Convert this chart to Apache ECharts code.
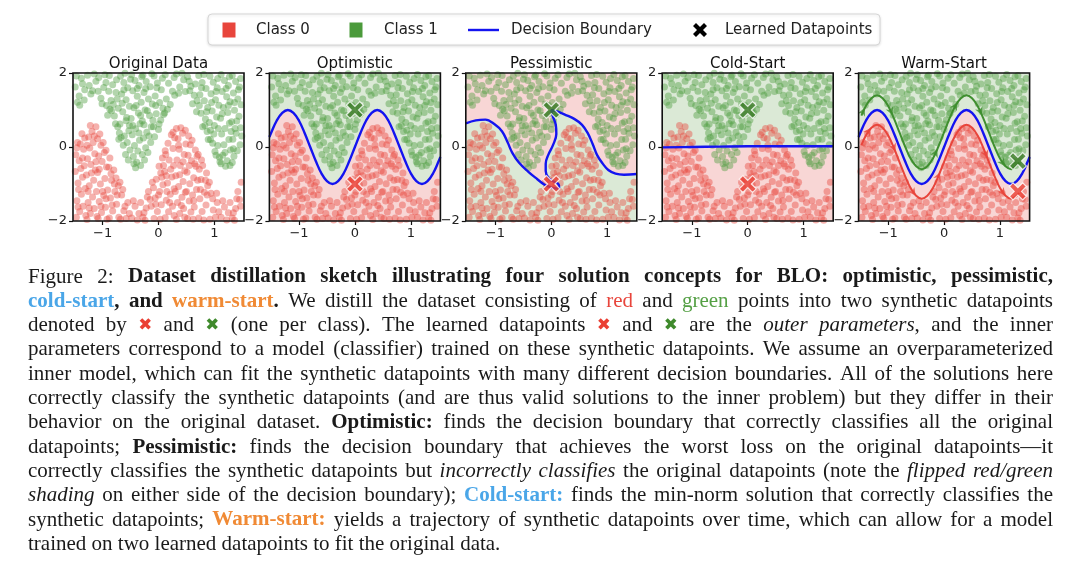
<!DOCTYPE html>
<html><head><meta charset="utf-8">
<script src="https://cdn.jsdelivr.net/npm/echarts@6/dist/echarts.min.js"></script>
<style>html,body{margin:0;padding:0;background:#fff}#c{width:1080px;height:577px}</style>
</head><body><div id="c"></div>
<script>
// ---------------- DATA ----------------
const panelTitles = ['Original Data', 'Optimistic', 'Pessimistic', 'Cold-Start', 'Warm-Start'];
const xTicks = [-1, 0, 1];
const yTicks = [-2, 0, 2];
const legendLabels = ['Class 0', 'Class 1', 'Decision Boundary', 'Learned Datapoints'];

// Class 1 (green) points
const class1Points = [
[-1.47,1.92],[-1.36,1.71],[-1.42,1.38],[-1.32,1.55],[-1.45,1.21],[-1.38,1.86],[-1.49,1.62],[-1.33,1.27],[-1.41,1.13],
[-1.27,1.94],[-1.18,1.52],[-1.12,1.78],[-1.24,1.66],[-1.15,1.97],[-1.21,1.43],
[-1.07,1.88],[-0.98,1.61],[-1.03,1.32],[-0.93,1.12],[-0.91,0.86],[-1.08,1.51],[-0.96,1.95],[-1.01,1.17],[-0.94,1.74],
[-0.88,1.93],[-0.82,1.68],[-0.76,1.47],[-0.85,1.26],[-0.72,1.05],[-0.79,0.84],[-0.73,0.55],[-0.71,0.21],[-0.87,1.02],[-0.75,1.82],[-0.81,1.15],[-0.77,0.63],[-0.84,0.98],[-0.70,0.38],[-0.89,1.51],[-0.74,1.30],
[-0.68,1.91],[-0.62,1.74],[-0.55,1.60],[-0.66,1.43],[-0.58,1.28],[-0.52,1.10],[-0.64,0.95],[-0.57,0.80],[-0.69,0.62],[-0.53,0.44],[-0.61,0.30],[-0.56,0.12],[-0.51,-0.08],[-0.59,-0.20],[-0.54,-0.35],[-0.63,0.05],[-0.67,0.26],[-0.60,1.99],[-0.50,1.83],[-0.65,1.18],[-0.58,0.71],[-0.52,0.58],[-0.62,1.55],
[-0.48,1.95],[-0.42,1.80],[-0.35,1.66],[-0.46,1.52],[-0.38,1.37],[-0.31,1.21],[-0.44,1.06],[-0.36,0.92],[-0.49,0.77],[-0.33,0.63],[-0.41,0.49],[-0.47,0.33],[-0.34,0.18],[-0.43,0.04],[-0.37,-0.11],[-0.45,-0.26],[-0.39,-0.41],[-0.32,-0.50],[-0.41,-0.56],[-0.30,1.90],[-0.40,1.12],[-0.46,0.58],[-0.35,0.38],[-0.44,-0.45],[-0.38,1.58],[-0.32,0.85],
[-0.28,1.94],[-0.22,1.77],[-0.15,1.63],[-0.26,1.47],[-0.18,1.30],[-0.11,1.16],[-0.24,1.00],[-0.16,0.85],[-0.29,0.70],[-0.13,0.55],[-0.21,0.40],[-0.27,0.24],[-0.14,0.12],[-0.23,-0.02],[-0.29,-0.20],[-0.25,-0.35],[-0.19,-0.15],[-0.12,1.98],[-0.20,0.98],[-0.26,0.60],[-0.17,0.30],[-0.10,0.72],[-0.23,1.58],
[-0.08,1.92],[-0.02,1.73],[0.05,1.55],[-0.06,1.38],[0.02,1.20],[0.08,1.05],[-0.04,0.90],[0.04,0.73],[-0.09,0.55],[0.00,0.47],[-0.07,0.28],[0.07,1.86],[-0.03,1.60],[0.09,0.88],[-0.05,1.12],[0.01,0.62],
[0.12,1.95],[0.18,1.72],[0.25,1.51],[0.14,1.30],[0.21,1.15],[0.28,1.88],[0.16,1.02],[0.29,1.40],[0.11,0.92],
[0.32,1.97],[0.38,1.62],[0.45,1.82],[0.36,1.45],[0.48,1.50],[0.42,1.99],
[0.52,1.90],[0.58,1.64],[0.64,1.40],[0.55,1.78],[0.61,1.17],[0.68,0.95],[0.66,1.70],[0.69,1.25],[0.56,1.52],
[0.72,1.93],[0.78,1.74],[0.85,1.58],[0.74,1.41],[0.82,1.25],[0.88,1.07],[0.76,0.91],[0.84,0.76],[0.79,0.55],[0.87,0.42],[0.89,0.20],[0.73,1.12],[0.81,1.96],[0.86,0.95],[0.77,1.60],[0.83,0.58],
[0.92,1.91],[0.98,1.75],[1.05,1.60],[0.94,1.44],[1.02,1.28],[1.08,1.13],[0.96,0.97],[1.04,0.81],[0.91,0.66],[1.07,0.50],[0.99,0.35],[0.93,0.20],[1.06,0.04],[1.01,-0.12],[1.09,-0.28],[1.03,-0.22],[0.97,0.10],[1.10,-0.40],[0.95,1.20],[1.00,0.58],[1.06,1.85],[0.93,0.45],[1.03,1.50],
[1.12,1.96],[1.18,1.80],[1.25,1.66],[1.14,1.50],[1.22,1.36],[1.28,1.22],[1.16,1.07],[1.24,0.93],[1.11,0.78],[1.27,0.64],[1.19,0.50],[1.13,0.35],[1.26,0.20],[1.17,0.06],[1.29,-0.08],[1.15,-0.22],[1.23,-0.37],[1.20,-0.52],[1.28,-0.50],[1.12,-0.45],[1.21,1.58],[1.30,0.42],[1.14,0.90],[1.25,1.12],[1.19,-0.15],[1.27,1.90],
[1.32,1.93],[1.38,1.77],[1.45,1.62],[1.34,1.46],[1.42,1.30],[1.48,1.14],[1.36,0.99],[1.44,0.83],[1.31,0.68],[1.47,0.52],[1.39,0.37],[1.33,0.21],[1.46,0.06],[1.41,-0.10],[1.35,-0.25],[1.32,-0.42],[1.37,0.50],[1.49,0.30],[1.43,1.55],[1.36,1.20],[1.40,0.70],[1.47,1.85],[1.34,-0.05]
];

// Class 0 (red) points
const class0Points = [
[-1.47,-1.90],[-1.41,-1.74],[-1.35,-1.60],[-1.46,-1.45],[-1.38,-1.28],[-1.31,-1.12],[-1.44,-0.97],[-1.36,-0.82],[-1.49,-0.66],[-1.33,-0.51],[-1.42,-0.37],[-1.48,-0.21],[-1.34,-0.06],[-1.40,0.08],[-1.32,0.24],[-1.45,0.12],[-1.37,0.36],[-1.43,-1.15],[-1.39,-0.58],[-1.46,-0.02],[-1.30,-1.85],[-1.44,-1.62],[-1.36,-0.30],
[-1.28,-1.96],[-1.22,-1.80],[-1.15,-1.66],[-1.26,-1.50],[-1.18,-1.35],[-1.11,-1.20],[-1.24,-1.05],[-1.16,-0.90],[-1.29,-0.76],[-1.13,-0.62],[-1.21,-0.47],[-1.27,-0.32],[-1.14,-0.18],[-1.23,-0.03],[-1.17,0.12],[-1.25,0.27],[-1.19,0.42],[-1.12,0.55],[-1.22,0.58],[-1.10,-1.88],[-1.20,-0.70],[-1.26,-1.20],[-1.15,0.30],[-1.28,0.05],[-1.12,-0.40],[-1.24,-1.65],
[-1.08,-1.93],[-1.02,-1.77],[-0.95,-1.63],[-1.06,-1.47],[-0.98,-1.31],[-0.91,-1.16],[-1.04,-1.00],[-0.96,-0.85],[-1.09,-0.69],[-0.93,-0.54],[-1.01,-0.39],[-1.07,-0.24],[-0.94,-0.09],[-1.03,0.05],[-1.09,0.22],[-0.97,-0.15],[-1.05,0.35],[-0.92,-1.95],[-1.00,-1.20],[-1.06,-0.60],[-0.99,0.12],[-0.94,-1.40],[-1.03,-1.60],
[-0.88,-1.92],[-0.82,-1.73],[-0.75,-1.55],[-0.86,-1.38],[-0.78,-1.20],[-0.72,-1.05],[-0.84,-0.90],[-0.76,-0.84],[-0.89,-0.55],[-0.80,-0.62],[-0.87,-0.30],[-0.71,-1.90],[-0.83,-1.57],[-0.79,-1.00],[-0.74,-1.30],[-0.85,-0.72],
[-0.68,-1.95],[-0.62,-1.72],[-0.55,-1.50],[-0.66,-1.30],[-0.58,-1.93],[-0.69,-0.95],[-0.52,-1.80],[-0.64,-1.15],[-0.60,-1.60],
[-0.48,-1.92],[-0.42,-1.60],[-0.35,-1.80],[-0.45,-1.45],[-0.32,-1.50],[-0.38,-1.97],
[-0.28,-1.90],[-0.22,-1.65],[-0.15,-1.42],[-0.26,-1.78],[-0.18,-1.20],[-0.11,-0.95],[-0.24,-1.98],[-0.13,-1.60],[-0.20,-1.35],
[-0.08,-1.93],[-0.02,-1.74],[0.05,-1.56],[-0.06,-1.38],[0.02,-1.20],[0.08,-1.02],[-0.04,-0.87],[0.04,-0.70],[0.09,-0.50],[0.01,-0.52],[0.07,-0.30],[-0.09,-1.10],[0.03,-1.95],[-0.05,-1.55],[0.06,-0.82],[0.00,-1.30],
[0.12,-1.91],[0.18,-1.75],[0.25,-1.60],[0.14,-1.44],[0.21,-1.28],[0.28,-1.13],[0.16,-0.97],[0.24,-0.81],[0.11,-0.66],[0.27,-0.50],[0.19,-0.35],[0.13,-0.20],[0.26,-0.04],[0.17,0.10],[0.29,0.25],[0.23,0.33],[0.15,-1.20],[0.22,-0.60],[0.28,-1.85],[0.12,-0.10],[0.20,-1.50],[0.26,0.40],[0.14,-0.78],
[0.32,-1.96],[0.38,-1.80],[0.45,-1.66],[0.34,-1.50],[0.42,-1.36],[0.48,-1.22],[0.36,-1.07],[0.44,-0.93],[0.31,-0.78],[0.47,-0.64],[0.39,-0.50],[0.33,-0.35],[0.46,-0.20],[0.37,-0.06],[0.49,0.08],[0.35,0.22],[0.43,0.37],[0.40,0.52],[0.32,0.50],[0.48,0.45],[0.41,-1.58],[0.30,-1.20],[0.44,-0.40],[0.36,0.05],[0.47,-1.90],[0.38,-0.75],
[0.52,-1.93],[0.58,-1.76],[0.64,-1.62],[0.55,-1.46],[0.61,-1.30],[0.68,-1.15],[0.56,-0.99],[0.63,-0.83],[0.51,-0.68],[0.67,-0.52],[0.59,-0.37],[0.53,-0.22],[0.66,-0.08],[0.57,0.06],[0.69,-0.25],[0.54,0.30],[0.60,0.18],[0.62,-1.95],[0.50,-1.20],[0.65,-0.45],[0.70,-0.90],[0.55,-0.50],[0.63,-1.45],
[0.72,-1.92],[0.78,-1.74],[0.85,-1.57],[0.74,-1.40],[0.82,-1.22],[0.88,-1.05],[0.76,-0.88],[0.84,-0.90],[0.71,-0.20],[0.79,-0.50],[0.73,-0.60],[0.87,-1.30],[0.81,-1.97],[0.75,-1.15],[0.86,-0.70],[0.77,-0.35],
[0.92,-1.95],[0.98,-1.70],[1.05,-1.50],[0.94,-1.25],[1.02,-1.90],[1.08,-1.75],[0.91,-0.95],[0.97,-1.40],[1.04,-1.25],
[1.12,-1.90],[1.18,-1.62],[1.25,-1.78],[1.15,-1.45],[1.28,-1.50],[1.22,-1.97],
[1.32,-1.92],[1.38,-1.66],[1.45,-1.42],[1.34,-1.78],[1.42,-1.20],[1.48,-0.95],[1.36,-1.98],[1.47,-1.60],[1.40,-1.40]
];

const optimisticBoundary = [[-1.53,0.27],[-1.5,0.38],[-1.4,0.71],[-1.3,0.92],[-1.2,1.0],[-1.1,0.92],[-1.0,0.71],[-0.9,0.38],[-0.8,0.0],[-0.7,-0.38],[-0.6,-0.71],[-0.5,-0.92],[-0.4,-1.0],[-0.3,-0.92],[-0.2,-0.71],[-0.1,-0.38],[0.0,0.0],[0.1,0.38],[0.2,0.71],[0.3,0.92],[0.4,1.0],[0.5,0.92],[0.6,0.71],[0.7,0.38],[0.8,0.0],[0.9,-0.38],[1.0,-0.71],[1.1,-0.92],[1.2,-1.0],[1.3,-0.92],[1.4,-0.71],[1.5,-0.38],[1.53,-0.27]];
const pessimisticBoundary = [[-1.53,0.64],[-1.35,0.72],[-1.18,0.74],[-1.02,0.62],[-0.88,0.42],[-0.78,0.12],[-0.70,-0.15],[-0.58,-0.42],[-0.41,-0.67],[-0.25,-0.87],[-0.12,-1.02],[-0.02,-1.08],[0.08,-1.12],[0.14,-1.10],[0.13,-1.01],[0.05,-0.94],[-0.05,-0.84],[-0.10,-0.65],[-0.10,-0.45],[-0.05,-0.20],[0.03,0.05],[0.09,0.35],[0.08,0.60],[0.03,0.82],[0.00,1.00],[0.10,0.96],[0.25,0.87],[0.41,0.76],[0.55,0.60],[0.65,0.38],[0.74,0.08],[0.82,-0.22],[0.92,-0.45],[1.02,-0.62],[1.15,-0.72],[1.30,-0.75],[1.53,-0.73]];
const coldStartBoundary = [[-1.53,-0.01],[-1.0,0.0],[-0.5,0.01],[0.0,0.02],[0.5,0.02],[1.0,0.02],[1.53,0.02]];
const warmStartBoundary = [[-1.53,0.27],[-1.5,0.38],[-1.4,0.71],[-1.3,0.92],[-1.2,1.0],[-1.1,0.92],[-1.0,0.71],[-0.9,0.38],[-0.8,0.0],[-0.7,-0.38],[-0.6,-0.71],[-0.5,-0.92],[-0.4,-1.0],[-0.3,-0.92],[-0.2,-0.71],[-0.1,-0.38],[0.0,0.0],[0.1,0.38],[0.2,0.71],[0.3,0.92],[0.4,1.0],[0.5,0.92],[0.6,0.71],[0.7,0.38],[0.8,0.0],[0.9,-0.38],[1.0,-0.71],[1.1,-0.92],[1.2,-1.0],[1.3,-0.92],[1.4,-0.71],[1.5,-0.38],[1.53,-0.27]];
const warmGreenTrajectory = [[-1.48,0.85],[-1.4,1.11],[-1.3,1.32],[-1.2,1.4],[-1.1,1.32],[-1.0,1.11],[-0.9,0.78],[-0.8,0.4],[-0.7,0.02],[-0.6,-0.31],[-0.5,-0.52],[-0.4,-0.6],[-0.3,-0.52],[-0.2,-0.31],[-0.1,0.02],[0.0,0.4],[0.1,0.78],[0.2,1.11],[0.3,1.32],[0.4,1.4],[0.5,1.32],[0.6,1.11],[0.7,0.78],[0.8,0.4],[0.9,0.02],[1.0,-0.31],[1.1,-0.52],[1.2,-0.6],[1.3,-0.5],[1.34,-0.42]];
const warmRedTrajectory = [[-1.48,0.05],[-1.4,0.31],[-1.3,0.52],[-1.2,0.6],[-1.1,0.52],[-1.0,0.31],[-0.9,-0.02],[-0.8,-0.4],[-0.7,-0.78],[-0.6,-1.11],[-0.5,-1.32],[-0.4,-1.4],[-0.3,-1.32],[-0.2,-1.11],[-0.1,-0.78],[0.0,-0.4],[0.1,-0.02],[0.2,0.31],[0.3,0.52],[0.4,0.6],[0.5,0.52],[0.6,0.31],[0.7,-0.02],[0.8,-0.4],[0.9,-0.78],[1.0,-1.11],[1.1,-1.32],[1.2,-1.4],[1.3,-1.32],[1.34,-1.24]];
// arrow heads along trajectories: [x, y, direction in degrees]
const greenArrows = [[-1.45,0.96,65],[-0.95,0.96,-65],[-0.15,-0.16,65],[0.2,1.11,61],[0.65,0.96,-65],[1.05,-0.43,-55]];
const redArrows = [[-1.35,0.43,55],[-0.9,-0.02,-67],[-0.55,-1.23,-55],[-0.1,-0.78,67],[0.75,-0.2,-68],[1.05,-1.23,-55]];
// learned datapoints per panel (panels 1..4)
const learnedClass0 = [[0,-1],[0,-1],[0,-1],[1.32,-1.2]];
const learnedClass1 = [[0,1],[0,1],[0,1],[1.32,-0.38]];

const captionLines = [
 "{n|Figure 2: }{b|Dataset distillation sketch illustrating four solution concepts for BLO: optimistic, pessimistic,}",
 "{bb|cold-start}{b|, and }{bo|warm-start}{b|.} We distill the dataset consisting of {r|red} and {g|green} points into two synthetic datapoints",
 "denoted by {xr|✖} and {xg|✖} (one per class). The learned datapoints {xr|✖} and {xg|✖} are the {i|outer parameters}, and the inner",
 "parameters correspond to a model (classifier) trained on these synthetic datapoints. We assume an overparameterized",
 "inner model, which can fit the synthetic datapoints with many different decision boundaries. All of the solutions here",
 "correctly classify the synthetic datapoints (and are thus valid solutions to the inner problem) but they differ in their",
 "behavior on the original dataset. {b|Optimistic:} finds the decision boundary that correctly classifies all the original",
 "datapoints; {b|Pessimistic:} finds the decision boundary that achieves the worst loss on the original datapoints—it",
 "correctly classifies the synthetic datapoints but {i|incorrectly classifies} the original datapoints (note the {i|flipped red/green}",
 "{i|shading} on either side of the decision boundary); {bb|Cold-start:} finds the min-norm solution that correctly classifies the",
 "synthetic datapoints; {bo|Warm-start:} yields a trajectory of synthetic datapoints over time, which can allow for a model",
 "trained on two learned datapoints to fit the original data."
];

// ---------------- STYLE / LAYOUT ----------------
const X_MIN = -1.53, X_MAX = 1.53, Y_MIN = -2, Y_MAX = 2;
const GRID_LEFT0 = 73, GRID_STEP = 196.4, GRID_W = 171, GRID_TOP = 73, GRID_H = 148;
const PT_RED = '#e8453c', PT_GREEN = '#4b9a3b';
const X_RED = '#ea3f33', X_GREEN = '#3a7a25';
const BLUE = '#1414f0';
const BG_PINK = '#f8d6d5', BG_GREEN = '#dbe9d6';
const SANS = '"DejaVu Sans", sans-serif';
const XPATH = 'path://M0,3L3,0L7,4L11,0L14,3L10,7L14,11L11,14L7,10L3,14L0,11L4,7Z';
const XPOLY = [[0,3],[3,0],[7,4],[11,0],[14,3],[10,7],[14,11],[11,14],[7,10],[3,14],[0,11],[4,7]];
const ARROW = 'path://M0,0L10,5L0,10L3,5Z';
const fmt = v => (v < 0 ? '\u2212' + Math.abs(v) : String(v));

const grids = [], xAxes = [], yAxes = [], series = [], graphics = [];
const boundaries = [null, optimisticBoundary, pessimisticBoundary, coldStartBoundary, warmStartBoundary];

for (let i = 0; i < 5; i++) {
  const left = GRID_LEFT0 + i * GRID_STEP;
  grids.push({left, top: GRID_TOP, width: GRID_W, height: GRID_H, show: true,
    backgroundColor: i === 0 ? '#fff' : BG_GREEN, borderWidth: 0});
  xAxes.push({gridIndex: i, type: 'value', min: X_MIN, max: X_MAX, position: 'bottom',
    splitLine: {show: false}, axisLine: {show: false, onZero: false},
    axisTick: {show: true, customValues: xTicks, length: 4, lineStyle: {color: '#111', width: 1.2}},
    axisLabel: {customValues: xTicks, formatter: fmt, fontSize: 13, color: '#222', margin: 6, fontFamily: SANS}});
  yAxes.push({gridIndex: i, type: 'value', min: Y_MIN, max: Y_MAX, interval: 2, position: 'left',
    splitLine: {show: false}, axisLine: {show: false, onZero: false},
    axisTick: {show: true, customValues: yTicks, length: 4, lineStyle: {color: '#111', width: 1.2}},
    axisLabel: {customValues: yTicks, formatter: fmt, fontSize: 13, color: '#222', margin: 6, fontFamily: SANS}});

  const ax = {xAxisIndex: i, yAxisIndex: i};
  const b = boundaries[i];
  if (i === 2) {
    series.push(Object.assign({type: 'custom', clip: true, silent: true, z: 1, data: [[0, 0]],
      renderItem: (params, api) => {
        const pts = b.map(p => api.coord(p));
        const f = b[0], l = b[b.length - 1];
        pts.push(api.coord([l[0] + 0.3, l[1]]), api.coord([l[0] + 0.3, Y_MAX + 0.6]),
                 api.coord([f[0] - 0.3, Y_MAX + 0.6]), api.coord([f[0] - 0.3, f[1]]));
        return {type: 'polygon', shape: {points: pts, smooth: 0.35}, style: {fill: BG_PINK}};
      }}, ax));
  } else if (b) {
    series.push(Object.assign({type: 'line', data: b, smooth: 0.4, symbol: 'none', silent: true, z: 1,
      lineStyle: {width: 0, opacity: 0}, areaStyle: {color: BG_PINK, opacity: 1, origin: 'start'}}, ax));
  }
  series.push(Object.assign({type: 'scatter', name: legendLabels[0], data: class0Points, symbolSize: 7, silent: true, z: 2,
    itemStyle: {color: PT_RED, opacity: 0.42}}, ax));
  series.push(Object.assign({type: 'scatter', name: legendLabels[1], data: class1Points, symbolSize: 7, silent: true, z: 2,
    itemStyle: {color: PT_GREEN, opacity: 0.42}}, ax));
  if (i === 4) {
    series.push(Object.assign({type: 'line', data: warmGreenTrajectory, smooth: 0.4, symbol: 'none', silent: true, z: 3,
      lineStyle: {color: '#3f8f2f', width: 2}}, ax));
    series.push(Object.assign({type: 'line', data: warmRedTrajectory, smooth: 0.4, symbol: 'none', silent: true, z: 3,
      lineStyle: {color: '#e8453c', width: 2}}, ax));
    series.push(Object.assign({type: 'scatter', symbol: ARROW, symbolSize: 8, silent: true, z: 4,
      data: greenArrows.map(a => ({value: [a[0], a[1]], symbolRotate: a[2]})), itemStyle: {color: '#3f8f2f'}}, ax));
    series.push(Object.assign({type: 'scatter', symbol: ARROW, symbolSize: 8, silent: true, z: 4,
      data: redArrows.map(a => ({value: [a[0], a[1]], symbolRotate: a[2]})), itemStyle: {color: '#e8453c'}}, ax));
  }
  if (b) {
    series.push(Object.assign({type: 'line', name: legendLabels[2], data: b, smooth: 0.4, symbol: 'none', silent: true, z: 3,
      lineStyle: {color: BLUE, width: 2.4}}, ax));
    series.push(Object.assign({type: 'scatter', name: legendLabels[3], symbol: XPATH, symbolSize: 17, silent: true, z: 5,
      data: [{value: learnedClass0[i - 1], itemStyle: {color: X_RED}}, {value: learnedClass1[i - 1], itemStyle: {color: X_GREEN}}],
      itemStyle: {borderColor: '#fff', borderWidth: 1.2}}, ax));
  }
  graphics.push({type: 'rect', silent: true, z: 100, shape: {x: left, y: GRID_TOP, width: GRID_W, height: GRID_H},
    style: {fill: 'none', stroke: '#111', lineWidth: 1.6}});
  graphics.push({type: 'text', silent: true, z: 100, x: left + GRID_W / 2, y: 64,
    style: {text: panelTitles[i], fontSize: 15, fontFamily: SANS, fill: '#111', align: 'center', verticalAlign: 'middle'}});
}

// legend (drawn as graphic)
graphics.push({type: 'rect', silent: true, z: 90, shape: {x: 208, y: 14, width: 672, height: 31, r: 4},
  style: {fill: '#fff', stroke: '#d6d6d6', lineWidth: 1, shadowBlur: 3, shadowColor: 'rgba(0,0,0,0.12)', shadowOffsetY: 1}});
const legY = 30;
graphics.push({type: 'rect', silent: true, z: 91, shape: {x: 222.5, y: legY - 7.5, width: 13, height: 15}, style: {fill: PT_RED}});
graphics.push({type: 'rect', silent: true, z: 91, shape: {x: 349.5, y: legY - 7.5, width: 13, height: 15}, style: {fill: PT_GREEN}});
graphics.push({type: 'line', silent: true, z: 91, shape: {x1: 468, y1: legY, x2: 499, y2: legY}, style: {stroke: BLUE, lineWidth: 2.4}});
graphics.push({type: 'polygon', silent: true, z: 91, shape: {points: XPOLY.map(p => [693 + p[0], legY - 7 + p[1]])}, style: {fill: '#000'}});
[[legendLabels[0], 256], [legendLabels[1], 384], [legendLabels[2], 511], [legendLabels[3], 725]].forEach(([t, x]) => {
  graphics.push({type: 'text', silent: true, z: 91, x, y: legY,
    style: {text: t, fontSize: 15, fontFamily: SANS, fill: '#222', align: 'left', verticalAlign: 'middle'}});
});

// caption (justified text)
const CAP_L = 28, CAP_R = 1053, CAP_Y0 = 277, CAP_DY = 24.3;
const SERIF = '"Liberation Serif", "Times New Roman", serif';
function richStyles(fs) {
  const base = {fontFamily: SERIF, fontSize: fs, fill: '#1a1a1a'};
  return {
    n: base,
    b: Object.assign({}, base, {fontWeight: 'bold'}),
    i: Object.assign({}, base, {fontStyle: 'italic'}),
    bb: Object.assign({}, base, {fontWeight: 'bold', fill: '#4aa6e8'}),
    bo: Object.assign({}, base, {fontWeight: 'bold', fill: '#f08a35'}),
    r: Object.assign({}, base, {fill: '#e8453c'}),
    g: Object.assign({}, base, {fill: '#55a045'}),
    xr: {fontFamily: SANS, fontSize: fs * 0.8, fill: X_RED, fontWeight: 'bold'},
    xg: {fontFamily: SANS, fontSize: fs * 0.8, fill: '#3f8a2c', fontWeight: 'bold'}
  };
}
function parseLine(s) {
  const runs = []; const re = /\{(\w+)\|([^}]*)\}/g; let last = 0, m;
  while ((m = re.exec(s))) { if (m.index > last) runs.push(['n', s.slice(last, m.index)]); runs.push([m[1], m[2]]); last = re.lastIndex; }
  if (last < s.length) runs.push(['n', s.slice(last)]);
  const words = []; let cur = [];
  runs.forEach(([st, t]) => {
    t.split(' ').forEach((p, k) => {
      if (k > 0) { if (cur.length) words.push(cur); cur = []; }
      if (p) cur.push([st, p]);
    });
  });
  if (cur.length) words.push(cur);
  return words;
}
const mctx = document.createElement('canvas').getContext('2d');
function measure(t, st) {
  mctx.font = (st.fontStyle || 'normal') + ' ' + (st.fontWeight || 'normal') + ' ' + st.fontSize + 'px ' + st.fontFamily;
  return mctx.measureText(t).width;
}
const parsed = captionLines.map(parseLine);
let FS = 21, RICH;
for (; FS > 15; FS -= 0.25) {
  RICH = richStyles(FS);
  const sp = measure(' ', RICH.n);
  let ok = true;
  parsed.forEach((words, li) => {
    if (li === parsed.length - 1) return;
    const tot = words.reduce((a, w) => a + w.reduce((s, r) => s + measure(r[1], RICH[r[0]]), 0), 0);
    const gap = (CAP_R - CAP_L - tot) / (words.length - 1);
    if (gap < sp * 0.9) ok = false;
  });
  if (ok) break;
}
const spaceW = measure(' ', RICH.n);
parsed.forEach((words, li) => {
  const widths = words.map(w => w.reduce((s, r) => s + measure(r[1], RICH[r[0]]), 0));
  const tot = widths.reduce((a, b) => a + b, 0);
  const gap = li === parsed.length - 1 ? spaceW : (CAP_R - CAP_L - tot) / (words.length - 1);
  let x = CAP_L;
  const y = CAP_Y0 + li * CAP_DY;
  words.forEach((w, k) => {
    graphics.push({type: 'text', silent: true, z: 50, x, y,
      style: {text: w.map(r => '{' + r[0] + '|' + r[1] + '}').join(''), rich: RICH,
        fontFamily: SERIF, fontSize: FS, fill: '#1a1a1a', align: 'left', verticalAlign: 'middle'}});
    x += widths[k] + gap;
  });
});

const chart = echarts.init(document.getElementById('c'), null, {renderer: 'canvas', width: 1080, height: 577});
chart.setOption({animation: false, grid: grids, xAxis: xAxes, yAxis: yAxes, series, graphic: {elements: graphics}});
</script>
</body></html>
